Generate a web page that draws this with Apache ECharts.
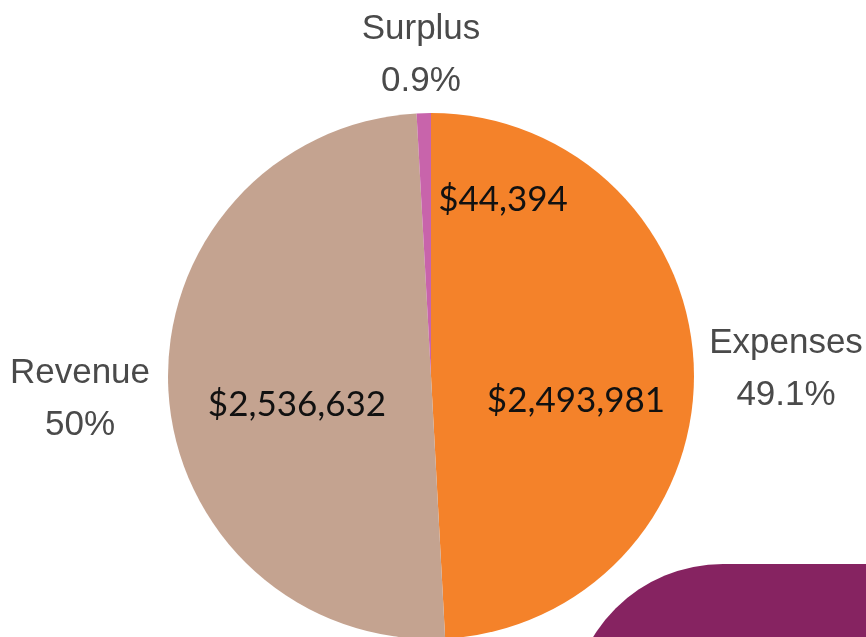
<!DOCTYPE html>
<html>
<head>
<meta charset="utf-8">
<script src="https://cdn.jsdelivr.net/npm/echarts@6/dist/echarts.min.js"></script>
<style>
  html, body { margin: 0; padding: 0; background: #fff; }
  #main { width: 866px; height: 637px; }
</style>
</head>
<body>
<div id="main"></div>
<script>
// budget split
var names = ['Expenses', 'Revenue', 'Surplus'];
var amounts = [2493981, 2536632, 44394];
var colors = ['#F4822A', '#C4A390', '#C864AB'];

// label spots (outer name/percent, inner dollar amount)
var outerPos = [[786, 369], [80, 399], [421, 55]];
var innerPos = [[576, 401], [297, 405], [503, 200]];

var chart = echarts.init(document.getElementById('main'));

var pieData = names.map(function (n, i) {
    return { name: n, value: amounts[i], itemStyle: { color: colors[i] } };
});

var option = {
    animation: false,
    backgroundColor: '#fff',
    graphic: [{
        // decorative purple block, bottom right
        type: 'rect',
        z: 0,
        shape: { x: 571, y: 564, width: 420, height: 200, r: [152, 0, 0, 0] },
        style: { fill: '#862361' }
    }],
    series: [{
        type: 'pie',
        center: [431, 376],
        radius: 263,
        startAngle: 90,
        clockwise: true,
        percentPrecision: 1,
        data: pieData,
        itemStyle: { borderWidth: 0 },
        label: {
            position: 'inside',
            formatter: function (p) {
                return '$' + p.value.toLocaleString('en-US');
            },
            fontFamily: 'Lato',
            fontSize: 35,
            color: '#111'
        },
        labelLine: { show: false },
        labelLayout: function (p) {
            var pt = innerPos[p.dataIndex];
            return { x: pt[0], y: pt[1], align: 'center', verticalAlign: 'middle' };
        }
    }, {
        // invisible copy that only carries the outer labels
        type: 'pie',
        center: [431, 376],
        radius: 263,
        startAngle: 90,
        clockwise: true,
        percentPrecision: 1,
        silent: true,
        data: names.map(function (n, i) {
            return { name: n, value: amounts[i] };
        }),
        itemStyle: { color: 'rgba(0,0,0,0)', borderWidth: 0 },
        label: {
            show: true,
            position: 'outside',
            formatter: '{b}\n{d}%',
            fontFamily: 'Liberation Sans',
            fontSize: 35,
            lineHeight: 52,
            color: '#4a4a4a',
            align: 'center',
            overflow: 'none',
            width: 300
        },
        labelLine: { show: false },
        labelLayout: function (p) {
            var pt = outerPos[p.dataIndex];
            return { x: pt[0], y: pt[1], align: 'center', verticalAlign: 'middle' };
        }
    }]
};

chart.setOption(option);
</script>
</body>
</html>
